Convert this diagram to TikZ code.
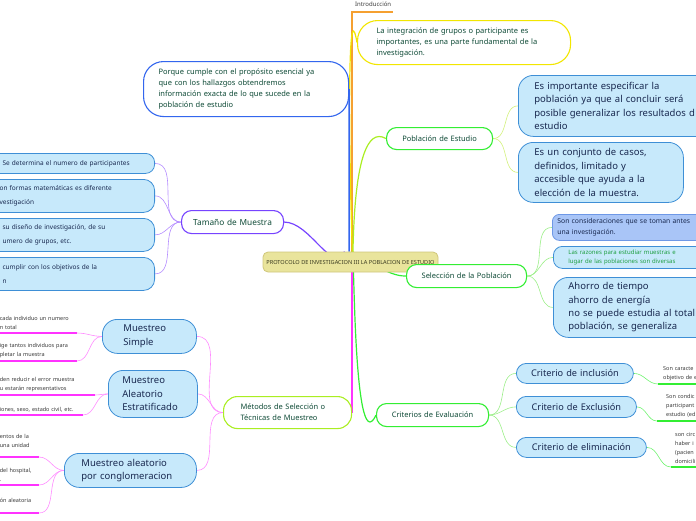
\documentclass[tikz,border=0pt]{standalone}
\usepackage{fontspec}
\setmainfont{Noto Sans}
\usepackage{xcolor}
\usetikzlibrary{calc}

\definecolor{bubblefill}{HTML}{C7E9FB}
\definecolor{bubbleline}{HTML}{3E8FD6}
\definecolor{periwinkle}{HTML}{A9C5F7}
\definecolor{periline}{HTML}{6E98E6}
\definecolor{textnavy}{HTML}{18284F}
\definecolor{textgreen}{HTML}{0E4A36}
\definecolor{leafgray}{HTML}{3A3A3A}
\definecolor{rootfill}{HTML}{E9E49C}
\definecolor{rootline}{HTML}{CFC67A}
\definecolor{roottext}{HTML}{3A3A20}
\definecolor{brorange}{HTML}{F5A030}
\definecolor{bryellow}{HTML}{F2E600}
\definecolor{brblue}{HTML}{3366EE}
\definecolor{brpurple}{HTML}{7744FF}
\definecolor{brlime}{HTML}{AAEE22}
\definecolor{brgreen}{HTML}{33EE33}
\definecolor{brmagenta}{HTML}{FF33FF}
\definecolor{subpink}{HTML}{FF8CFF}
\definecolor{sublilac}{HTML}{B48CFF}
\definecolor{sublime}{HTML}{D2F07A}
\definecolor{subgreen}{HTML}{9BEE88}
\definecolor{razgreen}{HTML}{1E9E40}

\pgfdeclarelayer{background}
\pgfsetlayers{background,main}

\tikzset{
  topic/.style={draw, fill=white, line width=1.1pt, rounded corners=10pt,
    text=textgreen, font=\fontsize{7.5}{11}\selectfont, inner ysep=0pt,
    anchor=north west},
  bubble/.style={draw=bubbleline, fill=bubblefill, line width=0.8pt,
    rounded corners=12pt, text=textnavy, inner ysep=0pt, anchor=north west},
  leaf/.style={text=leafgray, font=\fontsize{5.5}{9}\selectfont, align=left,
    inner xsep=1pt, inner ysep=3pt},
  branch/.style={line width=1.2pt},
  twig/.style={line width=0.6pt},
}

\begin{document}
\begin{tikzpicture}[x=1pt,y=-1pt]
\useasboundingbox (0,0) rectangle (696,520);
\clip (0,0) rectangle (696,520);

% Center topic
\node[draw=rootline, fill=rootfill, line width=0.8pt, rounded corners=5pt,
  text=roottext, font=\fontsize{5.6}{7}\selectfont,
  minimum height=20, minimum width=175, inner xsep=3pt]
  (root) at (350.5,262) {PROTOCOLO DE INVESTIGACION III LA POBLACION DE ESTUDIO};

% Main topics
\node[text=leafgray, font=\fontsize{6}{7}\selectfont, align=left,
  inner xsep=3pt, inner ysep=5.5pt, text width=35, anchor=south west]
  (intro) at (352,12) {Introducción};
\node[topic, draw=bryellow, rounded corners=20pt, align=left, inner xsep=19pt,
  text width=175, minimum height=44] (integ) at (357,20)
  {La integración de grupos o participante es\\
   importantes, es una parte fundamental de la\\
   investigación.};
\node[topic, draw=brblue, rounded corners=20pt, align=left, inner xsep=15pt,
  text width=175, minimum height=55] (porque) at (143,61)
  {Porque cumple con el propósito esencial ya\\
   que con los hallazgos obtendremos\\
   información exacta de lo que sucede en la\\
   población de estudio};
\node[topic, draw=brpurple, font=\fontsize{8.3}{10}\selectfont, align=center,
  inner xsep=8pt, text width=86, minimum height=23] (tam) at (181,210)
  {Tamaño de Muestra};
\node[topic, draw=brgreen, align=center, inner xsep=5pt, text width=96,
  minimum height=22] (pobest) at (386,127) {Población de Estudio};
\node[topic, draw=brgreen, align=center, inner xsep=5pt, text width=110,
  minimum height=23] (sel) at (406,264) {Selección de la Población};
\node[topic, draw=brgreen, align=center, inner xsep=5pt, text width=102,
  minimum height=23] (crit) at (376,403) {Criterios de Evaluación};
\node[topic, draw=brlime, rounded corners=14pt, align=left, inner xsep=17pt,
  text width=94, minimum height=32] (metodos) at (223,396)
  {Métodos de Selección o\\Técnicas de Muestreo};

% Poblacion de Estudio
\node[bubble, rounded corners=15pt, font=\fontsize{9.5}{13.5}\selectfont,
  align=left, inner xsep=16pt, text width=188, minimum height=61] (pob1) at (518,75)
  {Es importante especificar la\\
   población ya que al concluir será\\
   posible generalizar los resultados d\\
   estudio};
\node[bubble, rounded corners=15pt, font=\fontsize{9.5}{13.5}\selectfont,
  align=left, inner xsep=16pt, text width=133, minimum height=60] (pob2) at (518,142)
  {Es un conjunto de casos,\\
   definidos, limitado y\\
   accesible que ayuda a la\\
   elección de la muestra.};

% Seleccion de la Poblacion
\node[bubble, draw=periline, fill=periwinkle, rounded corners=7pt,
  font=\fontsize{6.8}{10.5}\selectfont, align=left, inner xsep=5pt,
  text width=170, minimum height=26] (sel1) at (552,214)
  {Son consideraciones que se toman antes\\una investigación.};
\node[bubble, rounded corners=9pt, text=razgreen,
  font=\bfseries\fontsize{6}{9.5}\selectfont, align=left, inner xsep=15pt,
  text width=150, minimum height=22] (sel2) at (553,246)
  {Las razones para estudiar muestras e\\lugar de las poblaciones son diversas};
\node[bubble, rounded corners=15pt, font=\fontsize{9.5}{13.3}\selectfont,
  align=left, inner xsep=15pt, text width=150, minimum height=60] (sel3) at (553,277)
  {Ahorro de tiempo\\
   ahorro de energía\\
   no se puede estudia al total\\
   población, se generaliza};

% Criterios de Evaluacion
\node[bubble, rounded corners=10pt, font=\fontsize{9.2}{11}\selectfont,
  align=center, inner xsep=3pt, text width=111, minimum height=20] (ci) at (516,363)
  {Criterio de inclusión};
\node[bubble, rounded corners=10pt, font=\fontsize{9.2}{11}\selectfont,
  align=center, inner xsep=3pt, text width=114, minimum height=21] (ce) at (516,396)
  {Criterio de Exclusión};
\node[bubble, rounded corners=10pt, font=\fontsize{9.2}{11}\selectfont,
  align=center, inner xsep=3pt, text width=124, minimum height=20] (cl) at (516,437)
  {Criterio de eliminación};

\node[leaf, anchor=south west, inner xsep=5pt, text width=60] (gl1) at (658,384)
  {Son caracte\\objetivo de e};
\node[leaf, anchor=south west, inner xsep=9pt, text width=60] (gl2) at (657,421)
  {Son condic\\participant\\estudio (ed};
\node[leaf, anchor=south west, inner xsep=4pt, text width=60] (gl3) at (671,467)
  {son circ\\haber i\\(pacien\\domicili};

% Tamano de Muestra
\node[bubble, anchor=north east, rounded corners=9pt, font=\fontsize{6.5}{13.6}\selectfont,
  align=left, inner xsep=15pt, text width=137, minimum height=20] (t1) at (155,153)
  {Se determina el numero de participantes};
\node[bubble, anchor=north east, rounded corners=11pt, font=\fontsize{6.5}{13.6}\selectfont,
  align=left, inner xsep=12pt, text width=143, minimum height=33] (t2) at (155,179)
  {on formas matemáticas es diferente\\vestigación};
\node[bubble, anchor=north east, rounded corners=11pt, font=\fontsize{6.5}{13.6}\selectfont,
  align=left, inner xsep=15pt, text width=137, minimum height=33] (t3) at (155,218)
  {su diseño de investigación, de su\\umero de grupos, etc.};
\node[bubble, anchor=north east, rounded corners=11pt, font=\fontsize{6.5}{13.6}\selectfont,
  align=left, inner xsep=15pt, text width=137, minimum height=33] (t4) at (155,257)
  {cumplir con los objetivos de la\\n};

% Metodos de Seleccion
\node[bubble, rounded corners=15pt, font=\fontsize{9.5}{14}\selectfont,
  align=left, inner xsep=21pt, text width=52, minimum height=34] (ms) at (102,319)
  {Muestreo\\Simple};
\node[bubble, rounded corners=15pt, font=\fontsize{9.5}{13.5}\selectfont,
  align=left, inner xsep=14pt, text width=61, minimum height=47] (mae) at (108,370)
  {Muestreo\\Aleatorio\\Estratificado};
\node[bubble, rounded corners=15pt, font=\fontsize{9.5}{13.5}\selectfont,
  align=left, inner xsep=17pt, text width=98, minimum height=34] (mac) at (64,453)
  {Muestreo aleatorio\\por conglomeracion};

\node[leaf, anchor=south east, text width=76] (ml1) at (77,333)
  {cada individuo un numero\\n total};
\node[leaf, anchor=south east, text width=76] (ml2) at (77,361)
  {ige tantos individuos para\\pletar la muestra};
\node[leaf, anchor=south east, text width=94] (ml3) at (95,395)
  {den reducir el error muestra\\u estarán representativos};
\node[leaf, anchor=south east, text width=82] (ml4) at (83,415)
  {iones, sexo, estado civil, etc.};
\node[leaf, anchor=south east, inner ysep=9pt, text width=38] (ml5) at (39,457)
  {entos de la\\una unidad};
\node[leaf, anchor=south east, text width=38] (ml6) at (39,485)
  {del hospital,\\.};
\node[leaf, anchor=south east, inner ysep=10pt, text width=38] (ml7) at (39,513)
  {ón aleatoria};

\begin{pgfonlayer}{background}
% Branches from the center (y runs downwards, so -90 points up)
\draw[branch, brorange] (root.north -| intro.south west) -- (intro.south west) -- (intro.south east);
\draw[branch, bryellow] ([xshift=3pt]root.north) to[out=-90,in=100] (integ.west);
\draw[branch, brblue, line width=1.5pt] ([xshift=-1.5pt]root.north) -- (porque.east);
\draw[branch, brlime] ([xshift=1pt]root.north) to[out=-85,in=150] (pobest.west);
\draw[branch, brpurple] (tam.east) to[out=0,in=-120] ([xshift=-6pt]root.north);
\draw[branch, brgreen] (root.center) to[out=15,in=180] (sel.west);
\draw[branch, brgreen] ([xshift=2pt]root.south) to[out=88,in=-115] (crit.west);
\draw[branch, brmagenta, line width=2pt] (root.south -| metodos.east) -- (metodos.east);

% Sub branches
\draw[twig, sublilac] (tam.west) to[out=180,in=0] (t1.east);
\draw[twig, sublilac] (tam.west) to[out=180,in=0] (t2.east);
\draw[twig, sublilac] (tam.west) to[out=180,in=0] (t3.east);
\draw[twig, sublilac] (tam.west) to[out=180,in=0] (t4.east);

\draw[twig, sublime] (pobest.east) to[out=0,in=180] (pob1.west);
\draw[twig, sublime] (pobest.east) to[out=0,in=180] (pob2.west);

\draw[twig, subgreen] (sel.east) to[out=0,in=180] (sel1.west);
\draw[twig, subgreen] (sel.east) to[out=0,in=180] (sel2.west);
\draw[twig, subgreen] (sel.east) to[out=0,in=180] (sel3.west);

\draw[twig, subgreen] (crit.east) to[out=0,in=180] (ci.west);
\draw[twig, subgreen] (crit.east) to[out=0,in=180] (ce.west);
\draw[twig, subgreen] (crit.east) to[out=0,in=180] (cl.west);

\draw[twig, brgreen!70] (ci.east) to[out=0,in=180] (gl1.south west);
\draw[twig, brgreen!70] (ce.east) to[out=0,in=180] (gl2.south west);
\draw[twig, brgreen!70] (cl.east) to[out=0,in=180] (gl3.south west);
\draw[brgreen, line width=1.5pt] (gl1.south west) -- (gl1.south east);
\draw[brgreen, line width=1.5pt] (gl2.south west) -- (gl2.south east);
\draw[brgreen, line width=1.5pt] (gl3.south west) -- (gl3.south east);

\draw[twig, subpink] (metodos.west) to[out=180,in=0] (ms.east);
\draw[twig, subpink] (metodos.west) to[out=180,in=0] (mae.east);
\draw[twig, subpink] (metodos.west) to[out=180,in=0] (mac.east);

\draw[twig, subpink] (ms.west) to[out=180,in=0] (ml1.south east);
\draw[twig, subpink] (ms.west) to[out=180,in=0] (ml2.south east);
\draw[twig, subpink] (mae.west) to[out=180,in=0] (ml3.south east);
\draw[twig, subpink] (mae.west) to[out=180,in=0] (ml4.south east);
\draw[twig, subpink] (mac.west) to[out=180,in=0] (ml5.south east);
\draw[twig, subpink] (mac.west) to[out=180,in=0] (ml6.south east);
\draw[twig, subpink] (mac.west) to[out=180,in=0] (ml7.south east);
\draw[brmagenta, line width=2pt] (ml1.south west) -- (ml1.south east);
\draw[brmagenta, line width=2pt] (ml2.south west) -- (ml2.south east);
\draw[brmagenta, line width=2pt] (ml3.south west) -- (ml3.south east);
\draw[brmagenta, line width=2pt] (ml4.south west) -- (ml4.south east);
\draw[brmagenta, line width=2pt] (ml5.south west) -- (ml5.south east);
\draw[brmagenta, line width=2pt] (ml6.south west) -- (ml6.south east);
\draw[brmagenta, line width=2pt] (ml7.south west) -- (ml7.south east);
\end{pgfonlayer}

\end{tikzpicture}
\end{document}
